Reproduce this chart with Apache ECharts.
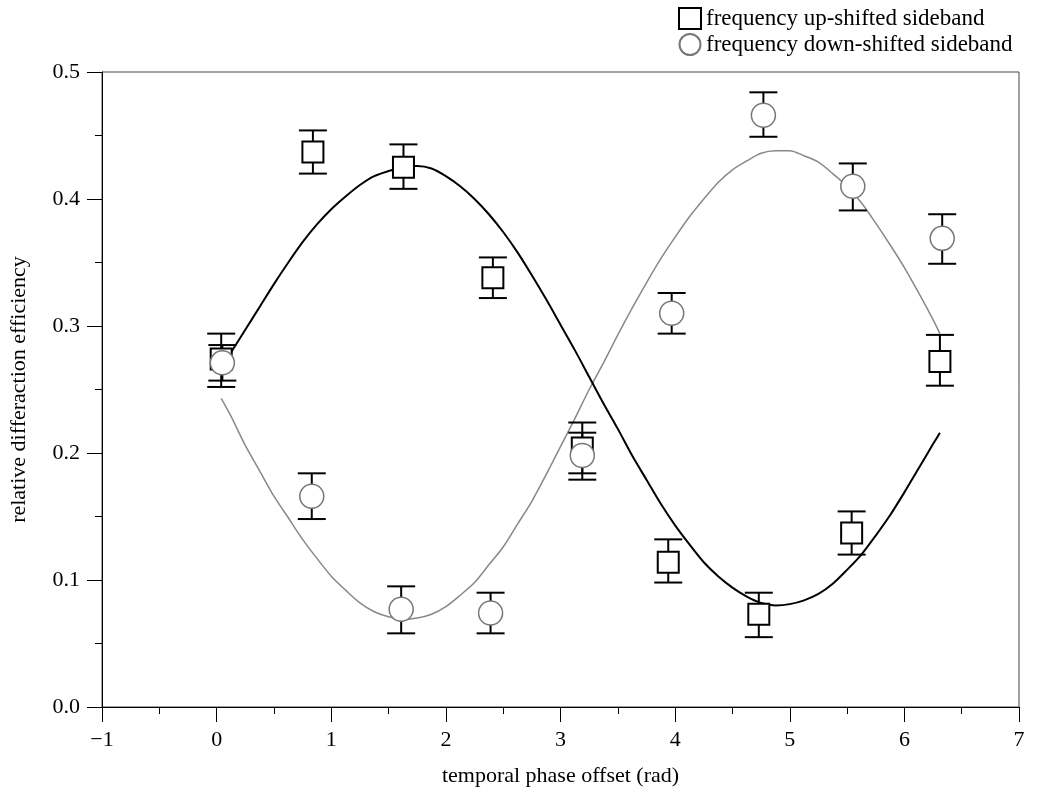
<!DOCTYPE html>
<html>
<head>
<meta charset="utf-8">
<script src="https://cdn.jsdelivr.net/npm/echarts@6/dist/echarts.min.js"></script>
<style>
html,body{margin:0;padding:0;background:#fff;}
#chart{width:1039px;height:792px;}
</style>
</head>
<body>
<div id="chart"></div>
<script>
// ---- data ----
const upX    = [0.04, 0.84, 1.63, 2.41, 3.19, 3.94, 4.73, 5.54, 6.31];
const upY    = [0.274, 0.437, 0.425, 0.338, 0.204, 0.114, 0.073, 0.137, 0.272];
const upLow  = [0.252, 0.420, 0.408, 0.322, 0.184, 0.098, 0.055, 0.120, 0.253];
const upHigh = [0.294, 0.454, 0.443, 0.354, 0.224, 0.132, 0.090, 0.154, 0.293];

const downX    = [0.05, 0.83, 1.61, 2.39, 3.19, 3.97, 4.77, 5.55, 6.33];
const downY    = [0.271, 0.166, 0.077, 0.074, 0.198, 0.310, 0.466, 0.410, 0.369];
const downLow  = [0.257, 0.148, 0.058, 0.058, 0.179, 0.294, 0.449, 0.391, 0.349];
const downHigh = [0.285, 0.184, 0.095, 0.090, 0.216, 0.326, 0.484, 0.428, 0.388];

const fitX = [0.04, 0.125, 0.25, 0.375, 0.5, 0.625, 0.75, 0.875, 1.0, 1.125, 1.25, 1.375, 1.5, 1.625, 1.75, 1.875,
              2.0, 2.125, 2.25, 2.375, 2.5, 2.625, 2.75, 2.875, 3.0, 3.125, 3.25, 3.375, 3.5, 3.625, 3.75, 3.875,
              4.0, 4.125, 4.25, 4.375, 4.5, 4.625, 4.75, 4.875, 5.0, 5.125, 5.25, 5.375, 5.5, 5.625, 5.75, 5.875,
              6.0, 6.125, 6.25, 6.31];
const fitUpY = [0.265, 0.279, 0.297, 0.315, 0.333, 0.350, 0.366, 0.380, 0.392, 0.402, 0.411, 0.418, 0.422, 0.425, 0.426, 0.424,
                0.418, 0.410, 0.400, 0.388, 0.374, 0.358, 0.340, 0.321, 0.301, 0.281, 0.260, 0.239, 0.219, 0.198, 0.179, 0.160,
                0.143, 0.128, 0.114, 0.103, 0.094, 0.087, 0.082, 0.080, 0.081, 0.084, 0.089, 0.097, 0.108, 0.120, 0.135, 0.151,
                0.169, 0.188, 0.207, 0.216];
const fitDownY = [0.243, 0.229, 0.206, 0.186, 0.166, 0.149, 0.132, 0.117, 0.103, 0.092, 0.082, 0.075, 0.071, 0.069, 0.070, 0.073,
                  0.079, 0.088, 0.098, 0.112, 0.126, 0.144, 0.162, 0.183, 0.205, 0.227, 0.250, 0.271, 0.293, 0.314, 0.334, 0.353,
                  0.370, 0.386, 0.400, 0.413, 0.423, 0.430, 0.436, 0.438, 0.438, 0.434, 0.429, 0.420, 0.410, 0.397, 0.381, 0.364,
                  0.346, 0.326, 0.305, 0.294];

const xTicks = [-1, 0, 1, 2, 3, 4, 5, 6, 7];
const yTicks = [0.0, 0.1, 0.2, 0.3, 0.4, 0.5];

const nameUp = 'frequency up-shifted sideband';
const nameDown = 'frequency down-shifted sideband';
const xTitle = 'temporal phase offset (rad)';
const yTitle = 'relative differaction efficiency';

// ---- build ----
const FONT = 'Liberation Serif';
const zip2 = (a, b) => a.map((v, i) => [v, b[i]]);
const zip3 = (a, b, c) => a.map((v, i) => [v, b[i], c[i]]);

function errRender(params, api) {
  const x = api.value(0), lo = api.value(1), hi = api.value(2);
  const pLo = api.coord([x, lo]);
  const pHi = api.coord([x, hi]);
  const hw = 14;
  const st = { stroke: '#000', lineWidth: 2 };
  return {
    type: 'group',
    children: [
      { type: 'line', shape: { x1: pLo[0], y1: pLo[1], x2: pHi[0], y2: pHi[1] }, style: st },
      { type: 'line', shape: { x1: pLo[0] - hw, y1: pLo[1], x2: pLo[0] + hw, y2: pLo[1] }, style: st },
      { type: 'line', shape: { x1: pHi[0] - hw, y1: pHi[1], x2: pHi[0] + hw, y2: pHi[1] }, style: st }
    ]
  };
}

const chart = echarts.init(document.getElementById('chart'), null, { renderer: 'canvas' });
chart.setOption({
  animation: false,
  backgroundColor: '#fff',
  textStyle: { fontFamily: FONT, color: '#000' },
  legend: {
    data: [nameUp, nameDown],
    orient: 'vertical',
    left: 673,
    top: 2,
    itemWidth: 22,
    itemHeight: 21,
    itemGap: 3,
    selectedMode: false,
    textStyle: { fontFamily: FONT, fontSize: 23, color: '#000' }
  },
  grid: {
    left: 102, right: 20, top: 72, bottom: 85,
    show: true, borderColor: '#444', borderWidth: 1
  },
  xAxis: {
    type: 'value',
    min: xTicks[0], max: xTicks[xTicks.length - 1], interval: 1,
    name: xTitle, nameLocation: 'middle', nameGap: 58,
    nameTextStyle: { fontFamily: FONT, fontSize: 22, color: '#000' },
    axisLine: { show: true, onZero: false, lineStyle: { color: '#000', width: 1 } },
    axisTick: { show: true, inside: false, length: 15, lineStyle: { color: '#000' } },
    minorTick: { show: true, splitNumber: 2, length: 7, lineStyle: { color: '#000' } },
    splitLine: { show: false },
    axisLabel: { fontFamily: FONT, fontSize: 22, color: '#000', margin: 22,
      formatter: v => (v < 0 ? '\u2212' + Math.abs(v) : String(v)) }
  },
  yAxis: {
    type: 'value',
    min: yTicks[0], max: yTicks[yTicks.length - 1], interval: 0.1,
    name: yTitle, nameLocation: 'middle', nameGap: 72,
    nameTextStyle: { fontFamily: FONT, fontSize: 22, color: '#000' },
    axisLine: { show: true, onZero: false, lineStyle: { color: '#000', width: 1 } },
    axisTick: { show: true, inside: false, length: 15, lineStyle: { color: '#000' } },
    minorTick: { show: true, splitNumber: 2, length: 7, lineStyle: { color: '#000' } },
    splitLine: { show: false },
    axisLabel: { fontFamily: FONT, fontSize: 22, color: '#000', margin: 22,
      formatter: v => v.toFixed(1) }
  },
  series: [
    {
      name: 'fit down', type: 'line', data: zip2(fitX, fitDownY),
      showSymbol: false, smooth: 0.3, z: 1, silent: true,
      lineStyle: { color: '#888', width: 1.5 }
    },
    {
      name: 'fit up', type: 'line', data: zip2(fitX, fitUpY),
      showSymbol: false, smooth: 0.3, z: 1, silent: true,
      lineStyle: { color: '#000', width: 2 }
    },
    {
      name: 'err up', type: 'custom', renderItem: errRender,
      data: zip3(upX, upLow, upHigh), encode: { x: 0, y: [1, 2] }, z: 2, silent: true
    },
    {
      name: 'err down', type: 'custom', renderItem: errRender,
      data: zip3(downX, downLow, downHigh), encode: { x: 0, y: [1, 2] }, z: 2, silent: true
    },
    {
      name: nameUp, type: 'scatter', data: zip2(upX, upY),
      symbol: 'rect', symbolSize: 21, z: 3,
      itemStyle: { color: '#fff', borderColor: '#000', borderWidth: 2, opacity: 1 }
    },
    {
      name: nameDown, type: 'scatter', data: zip2(downX, downY),
      symbol: 'circle', symbolSize: 24, z: 4,
      itemStyle: { color: '#fff', borderColor: '#777', borderWidth: 1.5, opacity: 1 }
    }
  ]
});
</script>
</body>
</html>
